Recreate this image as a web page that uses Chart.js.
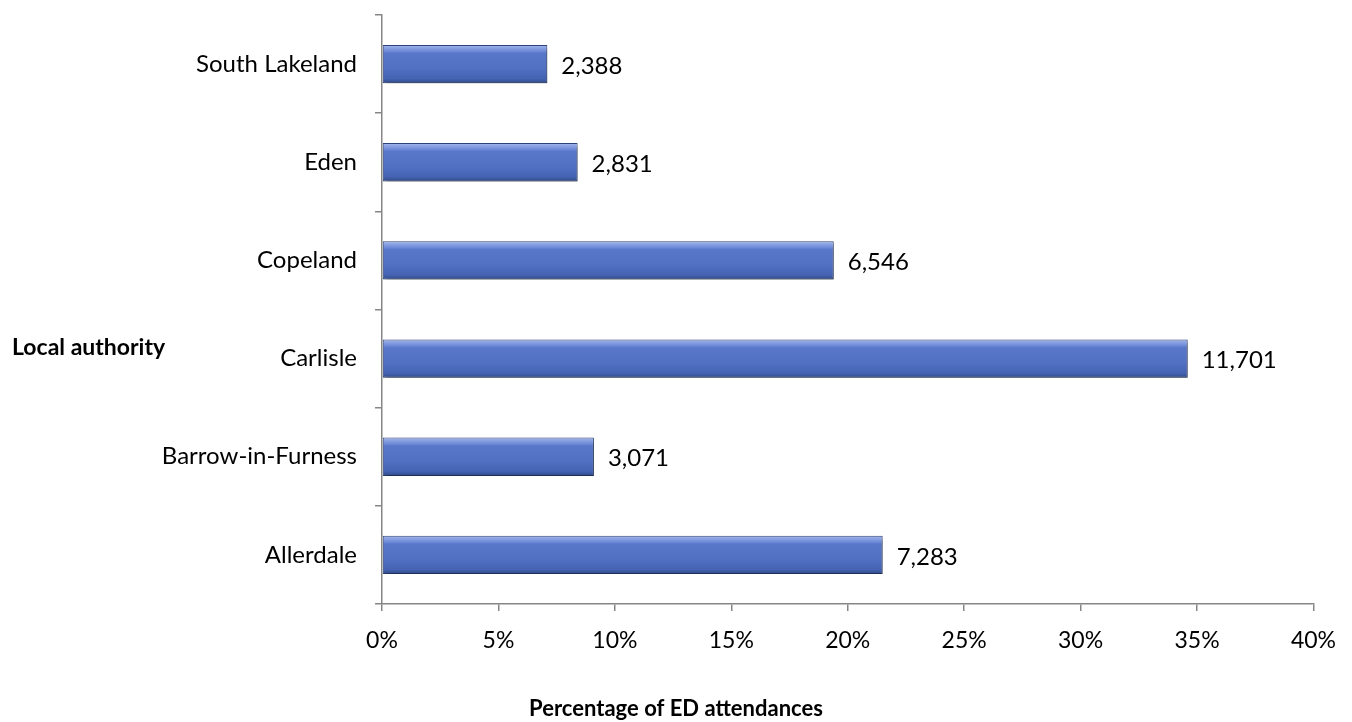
<!DOCTYPE html>
<html>
<head>
<meta charset="utf-8">
<script src="https://cdn.jsdelivr.net/npm/chart.js@4.4.0/dist/chart.umd.min.js"></script>
<style>
  html, body { margin: 0; padding: 0; background: #fff; }
  #wrap { width: 1352px; height: 722px; }
</style>
</head>
<body>
<div id="wrap"><canvas id="myChart" width="1352" height="722"></canvas></div>
<script>
// data (top to bottom)
var authorities = ["South Lakeland", "Eden", "Copeland", "Carlisle", "Barrow-in-Furness", "Allerdale"];
var percentOfAttendances = [7.1, 8.4, 19.4, 34.6, 9.1, 21.5];
var attendanceCounts = ["2,388", "2,831", "6,546", "11,701", "3,071", "7,283"];
var xTicks = ["0%", "5%", "10%", "15%", "20%", "25%", "30%", "35%", "40%"];

var FONT = "Lato, 'Liberation Sans', sans-serif";
var BAR_FRACTION = 0.39;

// gradient for each bar, top light -> bottom dark
function barFill(c) {
    var chart = c.chart;
    var y = chart.scales.y;
    if (!y || c.dataIndex === undefined) return "#5573c6";
    var centre = y.getPixelForValue(c.dataIndex);
    var h = (y.height / authorities.length) * BAR_FRACTION;
    if (!isFinite(centre) || !isFinite(h) || h <= 0) return "#5573c6";
    var g = chart.ctx.createLinearGradient(0, centre - h / 2, 0, centre + h / 2);
    g.addColorStop(0, "#a3b7ec");
    g.addColorStop(0.16, "#6f8bd8");
    g.addColorStop(0.22, "#5877c8");
    g.addColorStop(0.6, "#5271c3");
    g.addColorStop(0.88, "#4563b2");
    g.addColorStop(1, "#2f4a88");
    return g;
}

var extras = {
    id: "extras",
    beforeDatasetDraw: function (chart) {
        var ctx = chart.ctx;
        ctx.save();
        ctx.shadowColor = "rgba(0,0,0,0.35)";
        ctx.shadowOffsetX = 2;
        ctx.shadowOffsetY = 3;
        ctx.shadowBlur = 4;
    },
    afterDatasetDraw: function (chart) {
        chart.ctx.restore();
    },
    afterDraw: function (chart) {
        var ctx = chart.ctx;
        var meta = chart.getDatasetMeta(0);
        ctx.save();
        ctx.fillStyle = "#000";
        ctx.font = "24px " + FONT;
        ctx.textAlign = "left";
        ctx.textBaseline = "middle";
        meta.data.forEach(function (bar, i) {
            ctx.fillText(attendanceCounts[i], bar.x + 14, bar.y + 2);
        });
        ctx.font = "bold 23px " + FONT;
        ctx.fillText("Local authority", 12, 348);
        ctx.font = "bold 22px " + FONT;
        ctx.textAlign = "center";
        ctx.fillText("Percentage of ED attendances", 676, 709);
        ctx.restore();
    }
};

document.addEventListener("DOMContentLoaded", function () {
    var ctx = document.getElementById("myChart").getContext("2d");
    var chart = new Chart(ctx, {
        type: "bar",
        data: {
            labels: authorities,
            datasets: [{
                data: percentOfAttendances,
                backgroundColor: barFill,
                borderColor: "#2c4478",
                borderWidth: 1,
                borderSkipped: false,
                categoryPercentage: 1,
                barPercentage: BAR_FRACTION
            }]
        },
        options: {
            indexAxis: "y",
            responsive: false,
            animation: false,
            layout: { padding: { top: 15, right: 37, left: 0, bottom: 0 } },
            plugins: { legend: { display: false }, tooltip: { enabled: false } },
            scales: {
                x: {
                    min: 0,
                    max: 40,
                    afterFit: function (s) { s.height = 118; },
                    border: { color: "#868686", width: 1.5 },
                    grid: { drawOnChartArea: false, tickLength: 7, color: "#868686", lineWidth: 1.5 },
                    ticks: {
                        stepSize: 5,
                        padding: 16,
                        color: "#000",
                        font: { family: FONT, size: 23 },
                        callback: function (v, i) { return xTicks[i]; }
                    }
                },
                y: {
                    afterFit: function (s) {
                        s.width = 382;
                        s.paddingTop = 0;
                        s.paddingBottom = 0;
                    },
                    border: { color: "#868686", width: 1.5 },
                    grid: { drawOnChartArea: false, tickLength: 7, color: "#868686", lineWidth: 1.5 },
                    ticks: {
                        padding: 18,
                        color: "#000",
                        font: { family: FONT, size: 24 }
                    }
                }
            }
        },
        plugins: [extras]
    });
    chart.update("none");
});
</script>
</body>
</html>
